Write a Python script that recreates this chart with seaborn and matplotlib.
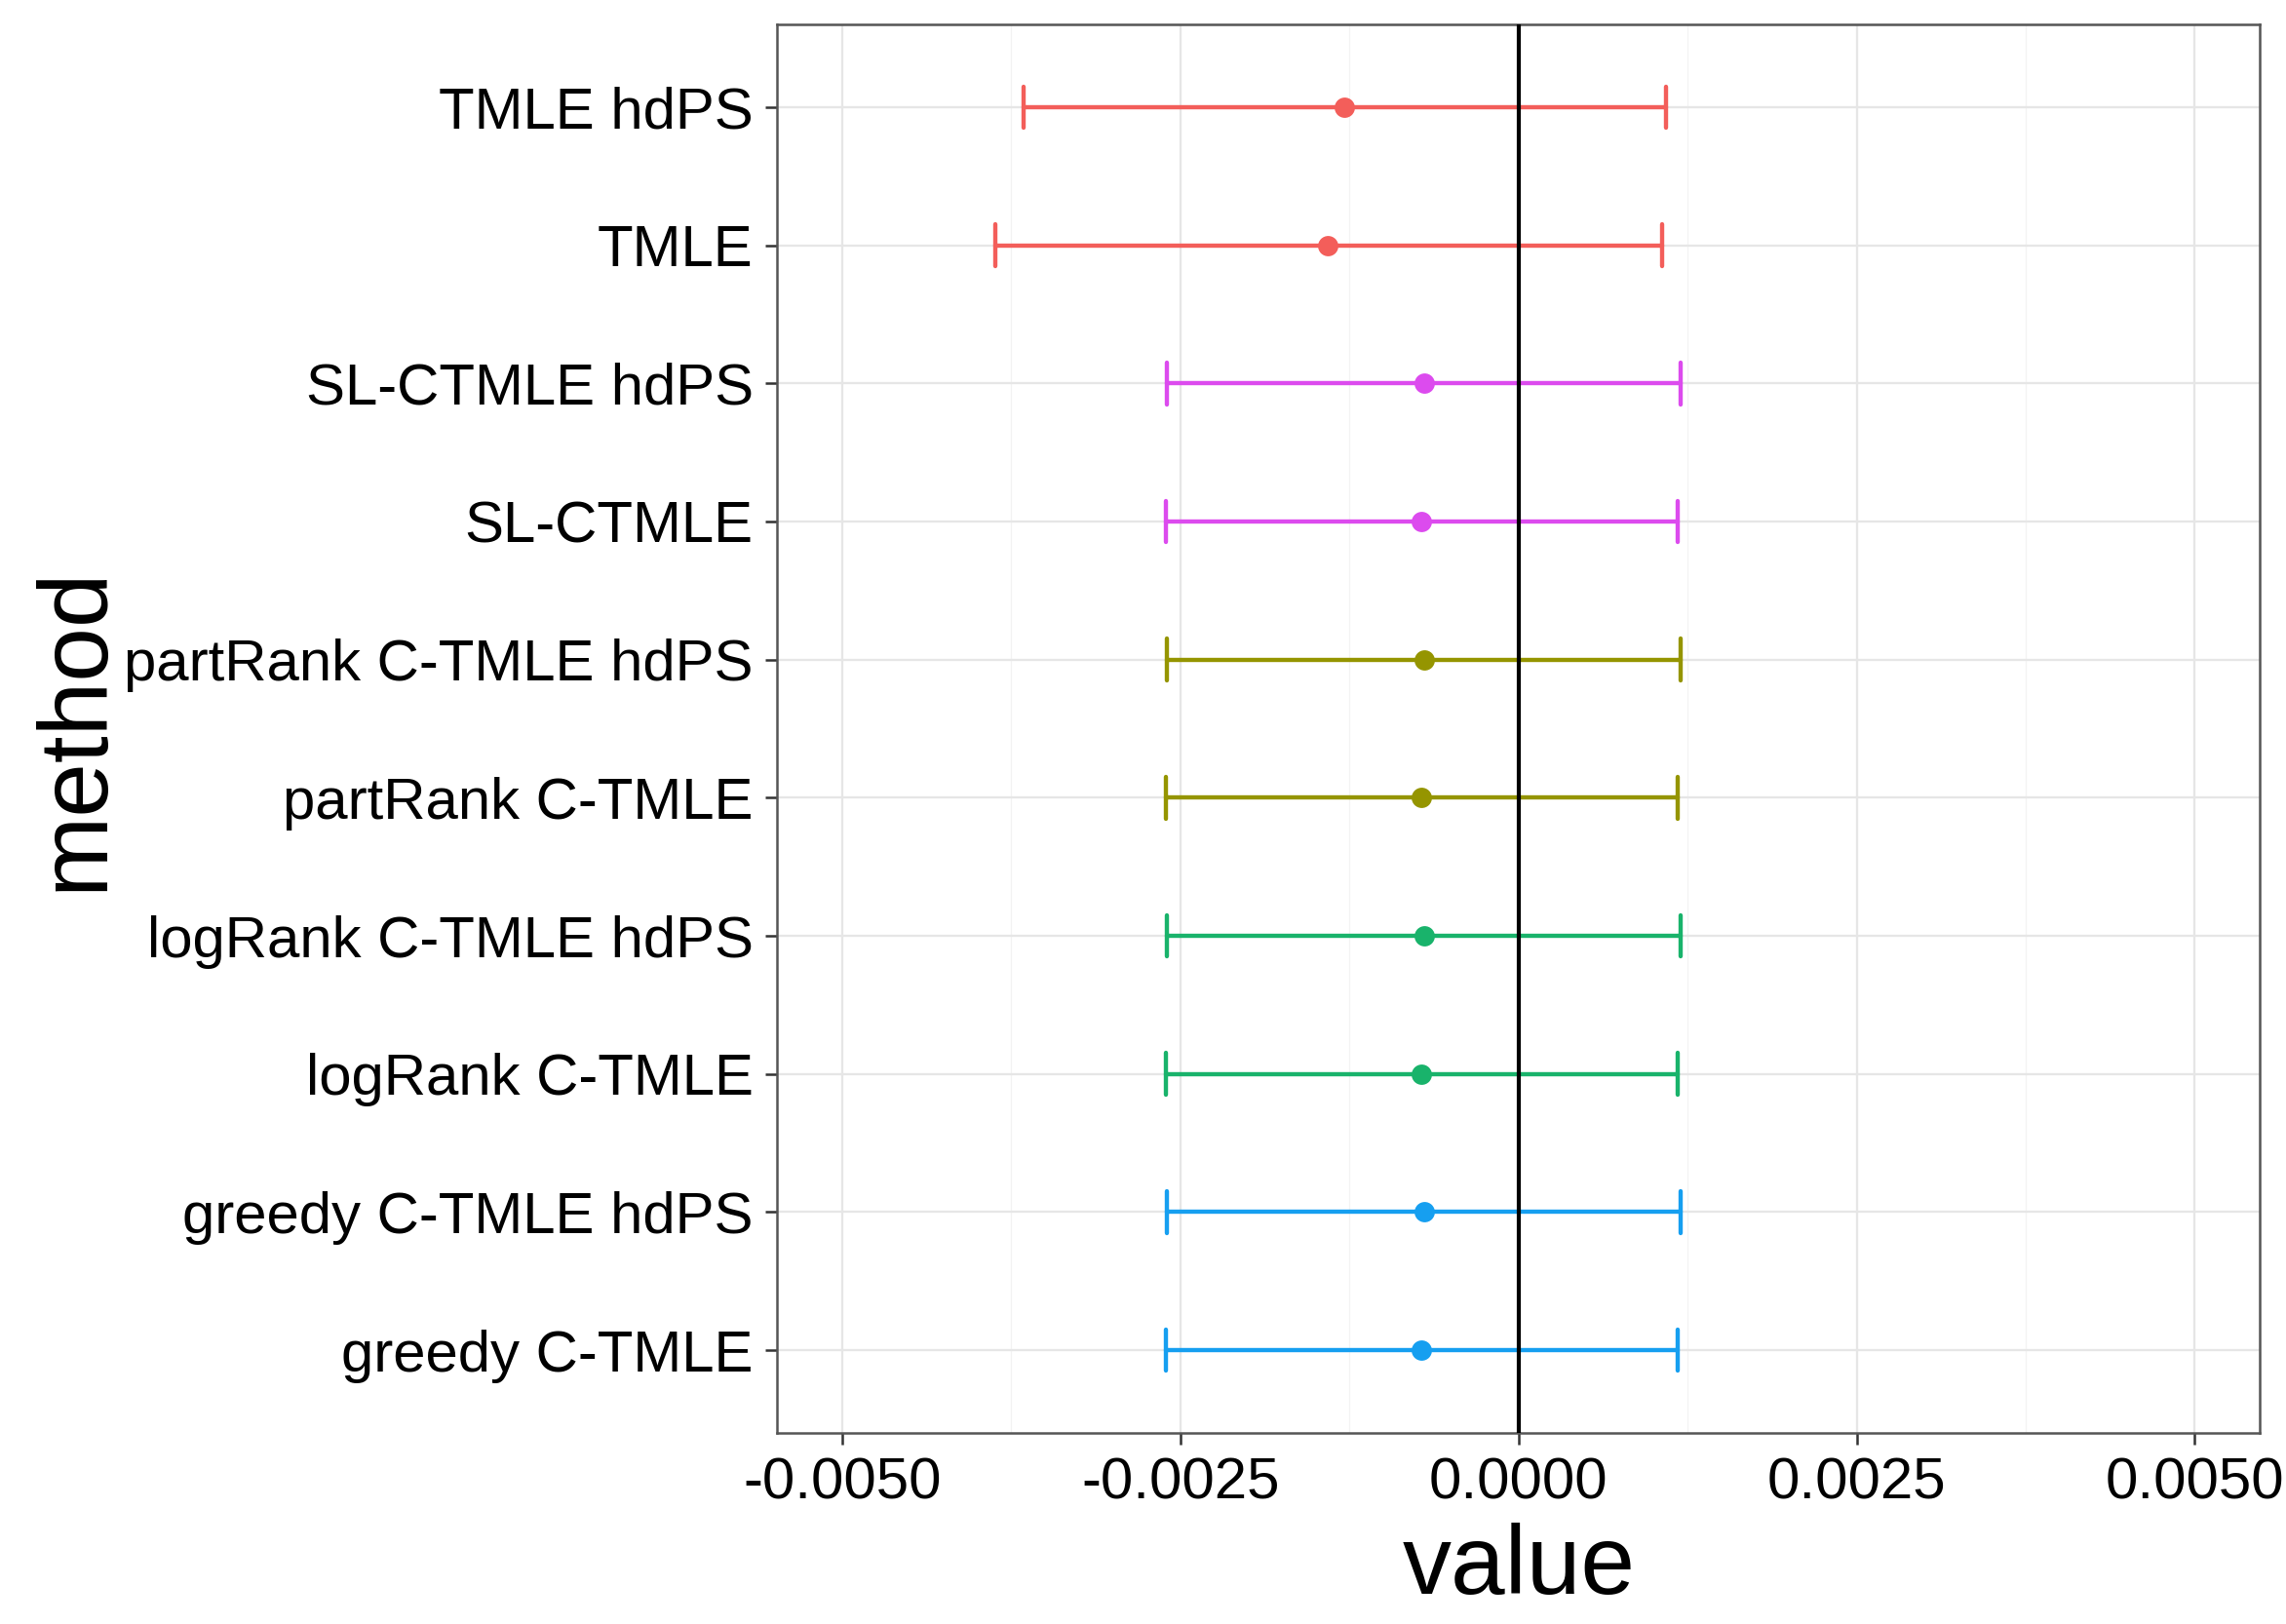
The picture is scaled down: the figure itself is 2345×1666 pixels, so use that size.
import numpy as np
import pandas as pd
import seaborn as sns
import matplotlib.pyplot as plt
from matplotlib.ticker import MultipleLocator

# methods, top to bottom
methods = ["TMLE hdPS", "TMLE", "SL-CTMLE hdPS", "SL-CTMLE",
           "partRank C-TMLE hdPS", "partRank C-TMLE",
           "logRank C-TMLE hdPS", "logRank C-TMLE",
           "greedy C-TMLE hdPS", "greedy C-TMLE"]
groups = ["TMLE", "TMLE", "SL-CTMLE", "SL-CTMLE", "partRank", "partRank",
          "logRank", "logRank", "greedy", "greedy"]
estimate = [-0.00129, -0.00141, -0.00070, -0.00072, -0.00070, -0.00072,
            -0.00070, -0.00072, -0.00070, -0.00072]
lower = [-0.00366, -0.00387, -0.00260, -0.00261, -0.00260, -0.00261,
         -0.00260, -0.00261, -0.00260, -0.00261]
upper = [0.00109, 0.00106, 0.00120, 0.00118, 0.00120, 0.00118,
         0.00120, 0.00118, 0.00120, 0.00118]

group_order = ["TMLE", "partRank", "logRank", "greedy", "SL-CTMLE"]
group_colors = ["#F35E5A", "#959500", "#19B36B", "#169FF0", "#DC4BEE"]

# long table: median of (lower, estimate, upper) = estimate, min..max = interval
df = pd.DataFrame({"method": methods, "group": groups,
                   "lo": lower, "est": estimate, "hi": upper})
long = df.melt(id_vars=["method", "group"], value_vars=["lo", "est", "hi"],
               value_name="value")

sns.set_style("white")
plt.rcParams['font.family'] = ['Liberation Sans', 'DejaVu Sans']
plt.rcParams['text.color'] = 'black'
plt.rcParams['axes.labelcolor'] = 'black'

fig, ax = plt.subplots(figsize=(2345 / 300, 1666 / 300), dpi=300)
fig.subplots_adjust(left=0.340, right=0.9885, top=0.985, bottom=0.1176)

sns.pointplot(data=long, x="value", y="method", hue="group", order=methods,
              hue_order=group_order, palette=group_colors,
              estimator="median", errorbar=("pi", 100), capsize=0.3,
              linestyle="none", markers="o", markersize=5.0,
              markeredgewidth=0, err_kws={"linewidth": 1.05},
              legend=False, ax=ax, zorder=3)

ax.axvline(0, color="black", linewidth=1.0, zorder=4)

ax.set_xlim(-0.00548, 0.00548)
ax.set_ylim(len(methods) - 0.4, -0.6)
ax.xaxis.set_major_locator(MultipleLocator(0.0025))
ax.xaxis.set_minor_locator(MultipleLocator(0.00125))
ax.set_xticklabels([f"{t:.4f}" for t in ax.get_xticks()])

ax.grid(True, which="major", color="#E6E6E6", linewidth=0.55, zorder=0)
ax.grid(True, which="minor", axis="x", color="#F3F3F3", linewidth=0.3, zorder=0)
ax.set_axisbelow(True)

for s in ax.spines.values():
    s.set_color("#555555")
    s.set_linewidth(0.6)

ax.tick_params(axis="both", which="major", length=2.9, width=0.6,
               color="#333333", labelsize=14.4, labelcolor="black", pad=3,
               bottom=True, left=True)
ax.tick_params(axis="x", which="minor", length=0)

ax.set_xlabel("value", fontsize=24, labelpad=3, color="black")
ax.set_ylabel("method", fontsize=24, labelpad=0.5, color="black")

fig.savefig("out.png", dpi=300)
